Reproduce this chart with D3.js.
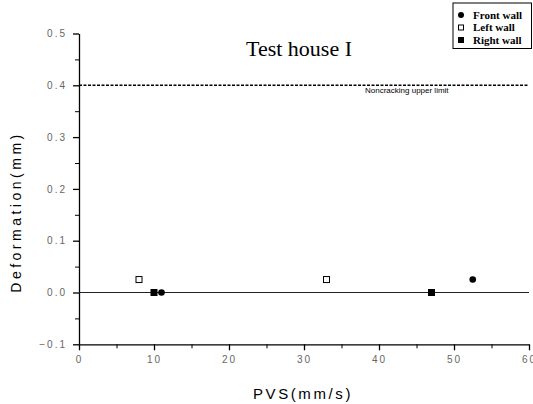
<!DOCTYPE html>
<html>
<head>
<meta charset="utf-8">
<script src="https://cdn.jsdelivr.net/npm/d3@7"></script>
<style>
  body { margin: 0; background: #fff; }
  svg { display: block; }
  .tick text { fill: #666; font-family: "Liberation Sans", Arial, sans-serif; font-size: 10px; letter-spacing: 2px; }
  .domain, .tick line { stroke: #000; }
</style>
</head>
<body>
<script>
// values
var frontWall = [[11, 0], [52.5, 0.025]]
var leftWall = [[8, 0.025], [33, 0.025]]
var rightWall = [[10, 0], [47, 0]]
var limitValue = 0.4
var xTicks = [0, 10, 20, 30, 40, 50, 60]
var yTicks = [-0.1, 0, 0.1, 0.2, 0.3, 0.4, 0.5]
var legendNames = ["Front wall", "Left wall", "Right wall"]

var width = 533, height = 404
var x = d3.scaleLinear().domain([0, 60]).range([79, 529])
var y = d3.scaleLinear().domain([-0.1, 0.5]).range([344.3, 33.5])

var svg = d3.select("body").append("svg")
    .attr("width", width).attr("height", height)

// minor ticks
svg.append("g")
    .attr("transform", "translate(0," + y(-0.1) + ")")
    .call(d3.axisBottom(x).tickValues(d3.range(5, 60, 10)).tickSize(4).tickFormat("").tickSizeOuter(0))
    .select(".domain").remove()
svg.append("g")
    .attr("transform", "translate(" + x(0) + ",0)")
    .call(d3.axisLeft(y).tickValues([-0.05, 0.05, 0.15, 0.25, 0.35, 0.45]).tickSize(4).tickFormat("").tickSizeOuter(0))
    .select(".domain").remove()

// major axes
var xAxis = svg.append("g")
    .attr("transform", "translate(0," + y(-0.1) + ")")
    .call(d3.axisBottom(x).tickValues(xTicks).tickSize(6).tickPadding(6).tickFormat(d3.format("d")).tickSizeOuter(0))
xAxis.select(".domain").attr("stroke-width", 1.3)
xAxis.selectAll(".tick line").attr("stroke-width", 1.3)

var yAxis = svg.append("g")
    .attr("transform", "translate(" + x(0) + ",0)")
    .call(d3.axisLeft(y).tickValues(yTicks).tickSize(6).tickPadding(6).tickFormat(d3.format(".1f")).tickSizeOuter(0))
yAxis.select(".domain").attr("stroke-width", 1.3)
yAxis.selectAll(".tick line").attr("stroke-width", 1.3)

// zero line
svg.append("line")
    .attr("x1", x(0)).attr("x2", x(60))
    .attr("y1", y(0)).attr("y2", y(0))
    .attr("stroke", "#222").attr("stroke-width", 1)

// noncracking limit
svg.append("line")
    .attr("x1", x(0)).attr("x2", x(60))
    .attr("y1", y(limitValue)).attr("y2", y(limitValue))
    .attr("stroke", "#000").attr("stroke-width", 1.6)
    .attr("stroke-dasharray", "3,1.5")
svg.append("text")
    .attr("x", 365).attr("y", y(limitValue) + 8)
    .attr("font-family", "Liberation Sans, Arial, sans-serif")
    .attr("font-size", 8)
    .text("Noncracking upper limit")

// markers
svg.selectAll(".front").data(frontWall).enter().append("circle")
    .attr("cx", function(d) { return x(d[0]) })
    .attr("cy", function(d) { return y(d[1]) })
    .attr("r", 3.3).attr("fill", "#000")

svg.selectAll(".left").data(leftWall).enter().append("rect")
    .attr("x", function(d) { return x(d[0]) - 3 })
    .attr("y", function(d) { return y(d[1]) - 3 })
    .attr("width", 6).attr("height", 6)
    .attr("fill", "#fff").attr("stroke", "#000").attr("stroke-width", 1)

svg.selectAll(".right").data(rightWall).enter().append("rect")
    .attr("x", function(d) { return x(d[0]) - 3.5 })
    .attr("y", function(d) { return y(d[1]) - 3.5 })
    .attr("width", 7).attr("height", 7)
    .attr("fill", "#000")

// title
svg.append("text")
    .attr("x", 299).attr("y", 56)
    .attr("text-anchor", "middle")
    .attr("font-family", "Liberation Serif, Times New Roman, serif")
    .attr("font-size", 22)
    .text("Test house I")

// axis titles
svg.append("text")
    .attr("x", 303).attr("y", 399)
    .attr("text-anchor", "middle")
    .attr("font-family", "Liberation Sans, Arial, sans-serif")
    .attr("font-size", 15).attr("letter-spacing", 2.6)
    .text("PVS(mm/s)")

svg.append("text")
    .attr("transform", "translate(21,212) rotate(-90)")
    .attr("text-anchor", "middle")
    .attr("font-family", "Liberation Sans, Arial, sans-serif")
    .attr("font-size", 14).attr("letter-spacing", 3.5)
    .text("Deformation(mm)")

// legend
var legend = svg.append("g")
svg.append("rect")
    .attr("x", 453).attr("y", 3).attr("width", 78.5).attr("height", 45.5)
    .attr("fill", "none").attr("stroke", "#000").attr("stroke-width", 1)
legendNames.forEach(function(name, i) {
  var ly = 15 + i * 12.5
  if (i == 0) {
    legend.append("circle").attr("cx", 461).attr("cy", ly).attr("r", 3).attr("fill", "#000")
  } else if (i == 1) {
    legend.append("rect").attr("x", 458.5).attr("y", ly - 2.5).attr("width", 5).attr("height", 5)
        .attr("fill", "#fff").attr("stroke", "#000")
  } else {
    legend.append("rect").attr("x", 458).attr("y", ly - 3).attr("width", 6).attr("height", 6).attr("fill", "#000")
  }
  legend.append("text")
      .attr("x", 473).attr("y", ly + 3.5)
      .attr("font-family", "Liberation Serif, Times New Roman, serif")
      .attr("font-size", 11).attr("font-weight", "bold")
      .text(name)
})
</script>
</body>
</html>
